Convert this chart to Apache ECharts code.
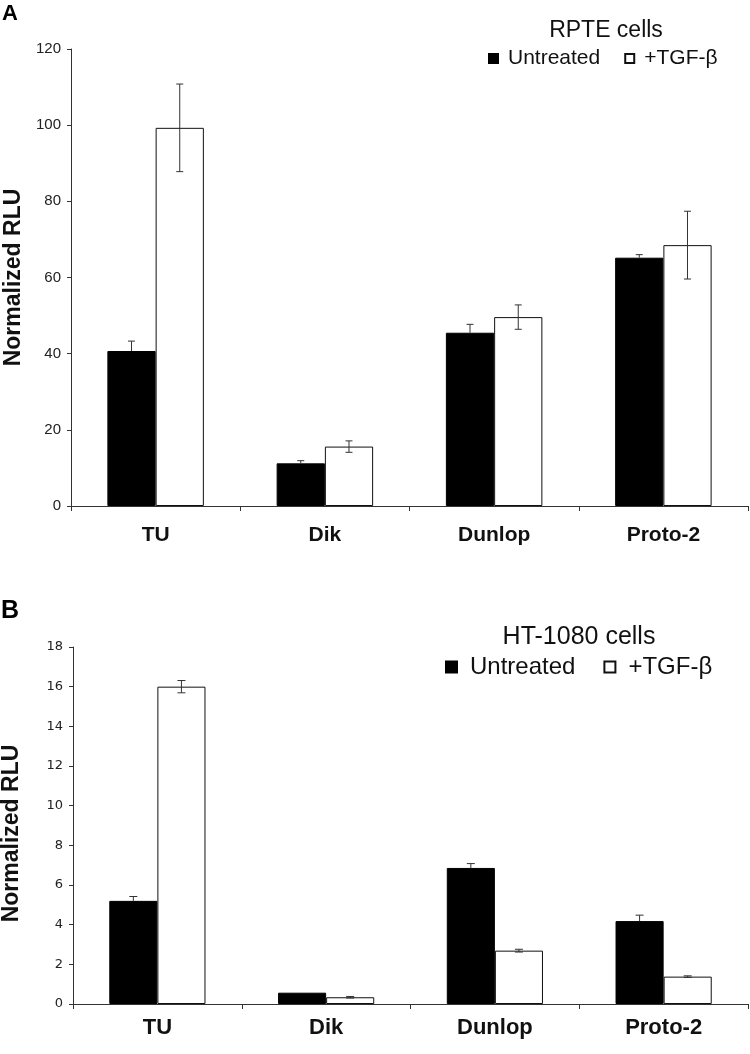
<!DOCTYPE html>
<html>
<head>
<meta charset="utf-8">
<script src="https://cdn.jsdelivr.net/npm/echarts@6/dist/echarts.min.js"></script>
<style>html,body{margin:0;padding:0;background:#fff}#c{width:750px;height:1054px}</style>
</head>
<body>
<div id="c"></div>
<script>
const categories = ['TU', 'Dik', 'Dunlop', 'Proto-2'];
const seriesNames = ['Untreated', '+TGF-\u03b2'];
// Panel A: RPTE cells
const rpteUntreated = [40.7, 11.2, 45.5, 65.2];
const rpteUntreatedErr = [2.6, 0.7, 2.2, 0.8];
const rpteTgf = [99.3, 15.6, 49.6, 68.5];
const rpteTgfErr = [11.5, 1.5, 3.2, 8.9];
// Panel B: HT-1080 cells
const htUntreated = [5.2, 0.57, 6.86, 4.18];
const htUntreatedErr = [0.22, 0, 0.22, 0.3];
const htTgf = [16.0, 0.34, 2.69, 1.38];
const htTgfErr = [0.31, 0.04, 0.07, 0.04];
const yTicksA = {min: 0, max: 120, interval: 20};
const yTicksB = {min: 0, max: 18, interval: 2};

const FONT = 'Liberation Sans, Arial, sans-serif';
const BAR_FRAC = 0.285;
const AXIS_COLOR = '#333';

function errData(vals, errs, side) {
  return vals.map((v, i) => [i, v, errs[i], side]);
}
function makeErrRender(capHalf) {
  return function (params, api) {
    const cat = api.value(0), val = api.value(1), err = api.value(2), side = api.value(3);
    if (!err) return null;
    const band = api.size([1, 0])[0];
    const c = api.coord([cat, val]);
    const x = c[0] + side * band * BAR_FRAC / 2;
    const yTop = api.coord([cat, val + err])[1];
    const yBot = api.coord([cat, val - err])[1];
    const style = {stroke: '#333', lineWidth: 1, fill: null};
    const children = [
      {type: 'line', shape: {x1: x, y1: yTop, x2: x, y2: side < 0 ? c[1] : yBot}, style},
      {type: 'line', shape: {x1: x - capHalf, y1: yTop, x2: x + capHalf, y2: yTop}, style}
    ];
    if (side > 0) {
      children.push({type: 'line', shape: {x1: x - capHalf, y1: yBot, x2: x + capHalf, y2: yBot}, style});
    }
    return {type: 'group', children};
  };
}

const blackStyle = {color: '#000', borderColor: '#000', borderWidth: 1};
const whiteStyle = {color: '#fff', borderColor: '#111', borderWidth: 1};

function barSeries(name, idx, data, style) {
  return {
    name, type: 'bar', xAxisIndex: idx, yAxisIndex: idx, data,
    barWidth: (BAR_FRAC * 100) + '%', barGap: '0%', itemStyle: style,
    emphasis: {disabled: true}, z: 2
  };
}
function errSeries(idx, data, capHalf) {
  return {
    type: 'custom', xAxisIndex: idx, yAxisIndex: idx, data,
    encode: {x: 0, y: 1}, renderItem: makeErrRender(capHalf), z: 5, silent: true
  };
}

function xAxis(idx, fontSize, margin) {
  return {
    type: 'category', gridIndex: idx, data: categories,
    axisLine: {lineStyle: {color: AXIS_COLOR, width: 1}},
    axisTick: {show: true, length: 5, lineStyle: {color: AXIS_COLOR}},
    axisLabel: {color: '#111', fontFamily: FONT, fontWeight: 'bold', fontSize, margin}
  };
}
function yAxis(idx, ticks, labelFont, labelSize, nameGap, namePad) {
  return {
    type: 'value', gridIndex: idx, min: ticks.min, max: ticks.max, interval: ticks.interval,
    name: 'Normalized RLU', nameLocation: 'middle', nameRotate: 90, nameGap,
    nameTextStyle: {fontFamily: FONT, fontWeight: 'bold', fontSize: 23, color: '#111', padding: namePad},
    axisLine: {show: true, lineStyle: {color: AXIS_COLOR, width: 1}},
    axisTick: {show: true, length: 4, lineStyle: {color: AXIS_COLOR}},
    axisLabel: {color: '#222', fontFamily: labelFont, fontSize: labelSize, margin: 10},
    splitLine: {show: false}
  };
}

const chart = echarts.init(document.getElementById('c'), null, {renderer: 'canvas'});
chart.setOption({
  animation: false,
  backgroundColor: '#fff',
  title: [
    {text: 'A', left: 2, top: 3, padding: 0, textStyle: {fontFamily: FONT, fontWeight: 'bold', fontSize: 22, color: '#000'}},
    {text: 'RPTE cells', left: 606, top: 19, padding: 0, textAlign: 'center', textStyle: {fontFamily: FONT, fontWeight: 'normal', fontSize: 23, color: '#111'}},
    {text: 'B', left: 1, top: 599, padding: 0, textStyle: {fontFamily: FONT, fontWeight: 'bold', fontSize: 25, color: '#000'}},
    {text: 'HT-1080 cells', left: 579, top: 625, padding: 0, textAlign: 'center', textStyle: {fontFamily: FONT, fontWeight: 'normal', fontSize: 25, color: '#111'}}
  ],
  legend: [
    {data: seriesNames, left: 488, top: 48, padding: 0, icon: 'rect', itemWidth: 9, itemHeight: 9, itemGap: 24,
     textStyle: {fontFamily: FONT, fontSize: 21, color: '#111', padding: [0, 0, 0, 5]}, selectedMode: false},
    {data: seriesNames, left: 445, top: 655, padding: 0, icon: 'rect', itemWidth: 11, itemHeight: 11, itemGap: 28,
     textStyle: {fontFamily: FONT, fontSize: 24, color: '#111', padding: [0, 0, 0, 8]}, selectedMode: false}
  ],
  grid: [
    {left: 71, top: 49, width: 677, height: 457, outerBoundsMode: 'none', containLabel: false},
    {left: 73, top: 647, width: 675, height: 357, outerBoundsMode: 'none', containLabel: false}
  ],
  xAxis: [xAxis(0, 21, 19), xAxis(1, 22, 13)],
  yAxis: [
    yAxis(0, yTicksA, FONT, 15, 45, [0, 0, 0, 0]),
    yAxis(1, yTicksB, 'DejaVu Sans, sans-serif', 13, 50, [0, 16, 0, 0])
  ],
  series: [
    barSeries(seriesNames[0], 0, rpteUntreated, blackStyle),
    barSeries(seriesNames[1], 0, rpteTgf, whiteStyle),
    errSeries(0, errData(rpteUntreated, rpteUntreatedErr, -1), 3.5),
    errSeries(0, errData(rpteTgf, rpteTgfErr, 1), 3.5),
    barSeries(seriesNames[0], 1, htUntreated, blackStyle),
    barSeries(seriesNames[1], 1, htTgf, whiteStyle),
    errSeries(1, errData(htUntreated, htUntreatedErr, -1), 4),
    errSeries(1, errData(htTgf, htTgfErr, 1), 4)
  ]
});
</script>
</body>
</html>
